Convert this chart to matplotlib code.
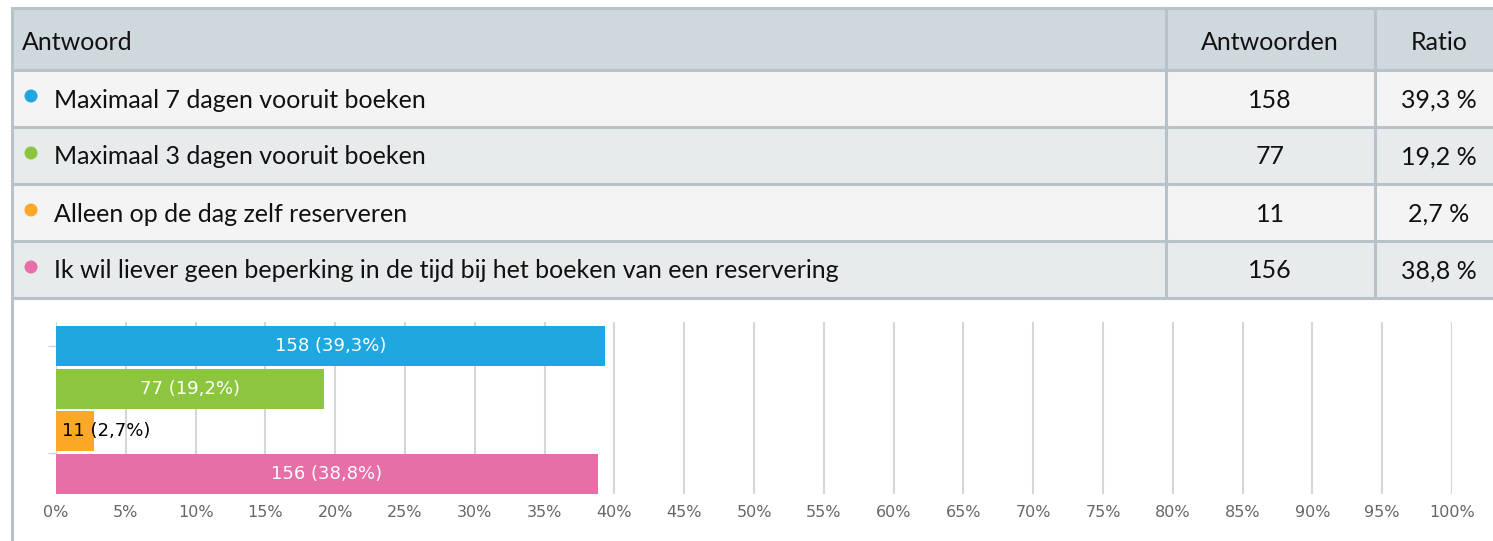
import matplotlib.pyplot as plt
from matplotlib.patches import Rectangle, Circle

answers = [
    "Maximaal 7 dagen vooruit boeken",
    "Maximaal 3 dagen vooruit boeken",
    "Alleen op de dag zelf reserveren",
    "Ik wil liever geen beperking in de tijd bij het boeken van een reservering",
]
counts = [158, 77, 11, 156]
ratios = [39.3, 19.2, 2.7, 38.8]
colors = ["#1fa8e0", "#8cc63f", "#fba826", "#e66fa8"]
headers = ["Antwoord", "Antwoorden", "Ratio"]
xticks = list(range(0, 101, 5))

W, H = 1493, 541
fig = plt.figure(figsize=(W / 100, H / 100), dpi=100)

# table drawn in pixel coordinates
tab = fig.add_axes([0, 0, 1, 1])
tab.set_xlim(0, W)
tab.set_ylim(H, 0)
tab.axis("off")

tfont = ["Lato", "DejaVu Sans"]
tsize = 18
border = "#b7c3c8"
row_edges = [8, 70, 127, 184, 241, 298]
fills = ["#cfd8dc", "#f4f4f4", "#e8ebec", "#f4f4f4", "#e8ebec"]
for i, fc in enumerate(fills):
    y0, y1 = row_edges[i], row_edges[i + 1]
    tab.add_patch(Rectangle((12, y0), W - 12, y1 - y0, facecolor=fc,
                            edgecolor="none"))
for y in row_edges:
    tab.plot([12, W], [y, y], color=border, lw=2.2, solid_capstyle="butt")
tab.plot([12, 12], [8, H], color=border, lw=2.2)
for x in [1166, 1375]:
    tab.plot([x, x], [8, 298], color=border, lw=2.2)

col_x = [1270, 1439]
tab.text(22, 42, headers[0], fontsize=tsize, family=tfont, va="center",
         ha="left", color="#111111")
tab.text(col_x[0], 42, headers[1], fontsize=tsize, family=tfont, va="center",
         ha="center", color="#111111")
tab.text(col_x[1], 42, headers[2], fontsize=tsize, family=tfont, va="center",
         ha="center", color="#111111")
for i, (a, n, r, c) in enumerate(zip(answers, counts, ratios, colors)):
    yc = (row_edges[i + 1] + row_edges[i + 2]) / 2 + 1.5
    tab.add_patch(Circle((31, yc - 4), 6.5, facecolor=c, edgecolor="none"))
    tab.text(54, yc, a, fontsize=tsize, family=tfont, va="center", ha="left",
             color="#111111")
    tab.text(col_x[0], yc, str(n), fontsize=tsize, family=tfont, va="center",
             ha="center", color="#111111")
    tab.text(col_x[1], yc, f"{r:.1f} %".replace(".", ","), fontsize=tsize,
             family=tfont, va="center", ha="center", color="#111111")

# bar chart
ax = fig.add_axes([56 / W, 47 / H, (1452 - 56) / W, (494 - 322) / H])
ypos = list(range(len(counts)))
ax.barh(ypos, ratios, height=0.9375, color=colors, zorder=3)
ax.set_xlim(0, 100)
ax.set_ylim(3.469, -0.5625)
ax.set_xticks(xticks)
ax.set_xticklabels([f"{t}%" for t in xticks], color="#666666", fontsize=11.5)
ax.tick_params(axis="x", length=0, pad=8)
ax.set_yticks([0, 2.5])
ax.set_yticklabels([])
ax.tick_params(axis="y", length=6, color="#ccd6eb", width=1)
ax.grid(axis="x", color="#d6d6d6", lw=1.5, zorder=0)
for s in ax.spines.values():
    s.set_visible(False)

for y, n, r in zip(ypos, counts, ratios):
    lab = f"{n} ({r:.1f}%)".replace(".", ",")
    if r > 5:
        ax.text(r / 2, y, lab, ha="center", va="center", color="white",
                fontsize=13, zorder=4)
    else:
        ax.text(0.45, y, lab, ha="left", va="center", color="black",
                fontsize=13, zorder=4)

fig.savefig("out.png", dpi=100)
